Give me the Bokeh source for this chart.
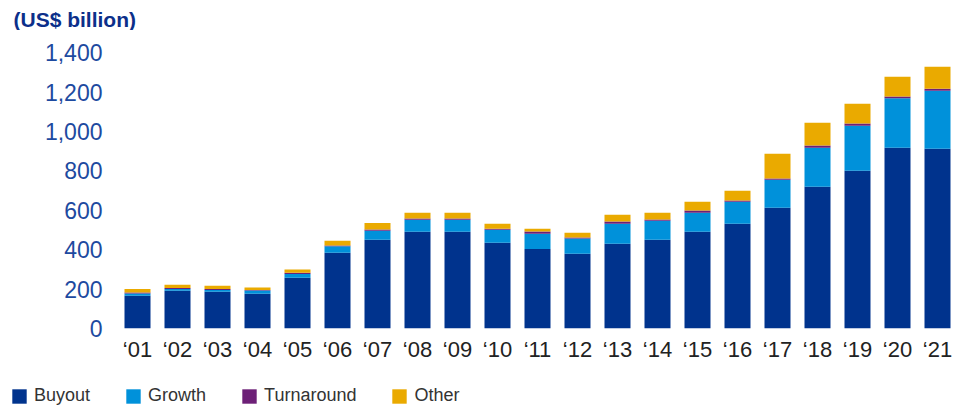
from bokeh.plotting import figure
from bokeh.layouts import column
from bokeh.models import Range1d, FixedTicker, Legend, LegendItem, ColumnDataSource, NumeralTickFormatter, Label
from bokeh.embed import file_html
from bokeh.resources import INLINE

years = ["\u201801", "\u201802", "\u201803", "\u201804", "\u201805", "\u201806", "\u201807",
         "\u201808", "\u201809", "\u201810", "\u201811", "\u201812", "\u201813", "\u201814",
         "\u201815", "\u201816", "\u201817", "\u201818", "\u201819", "\u201820", "\u201821"]
buyout = [166, 191, 186, 176, 257, 384, 450, 491, 491, 435, 404, 379, 430, 450, 491, 531, 613, 719, 800, 917, 912]
growth = [12, 10, 9, 17, 20, 34, 46, 61, 61, 66, 77, 78, 101, 97, 96, 112, 142, 198, 229, 251, 294]
turnaround = [5, 4, 5, 3, 6, 3, 7, 6, 6, 5, 11, 5, 12, 6, 12, 7, 6, 12, 12, 10, 11]
other = [18, 17, 17, 12, 16, 24, 33, 29, 29, 25, 14, 24, 34, 34, 44, 49, 126, 115, 99, 99, 111]
series = ["Buyout", "Growth", "Turnaround", "Other"]
colors = ["#00338D", "#0091DA", "#6D2077", "#EAAA00"]
y_ticks = [0, 200, 400, 600, 800, 1000, 1200, 1400]
unit_title = "(US$ billion)"

xs = list(range(len(years)))
src = ColumnDataSource(dict(x=xs, Buyout=buyout, Growth=growth, Turnaround=turnaround, Other=other))


def strip(h):
    f = figure(width=965, height=h, output_backend="svg", toolbar_location=None,
               x_range=Range1d(0, 965), y_range=Range1d(0, h),
               x_axis_type=None, y_axis_type=None,
               min_border_left=0, min_border_right=0, min_border_top=0, min_border_bottom=0)
    f.outline_line_color = None
    f.grid.visible = False
    f.frame_align = False
    return f


# title strip
pt = strip(30)
pt.add_layout(Label(x=13, y=11, text=unit_title, text_font="Liberation Sans", text_font_style="bold",
                    text_font_size="21px", text_color="#0C2F8A", text_baseline="middle", text_align="left"))

# main chart
p = figure(width=965, height=351, output_backend="svg", toolbar_location=None,
           x_range=Range1d(-0.675, 20.7), y_range=Range1d(0, 1421),
           min_border_left=110, min_border_right=0, min_border_top=18, min_border_bottom=53)
p.frame_align = False
p.outline_line_color = None
p.grid.visible = False

renderers = p.vbar_stack(series, x="x", width=0.65, color=colors, source=src, line_width=0)

xa = p.xaxis[0]
xa.ticker = FixedTicker(ticks=xs)
xa.major_label_overrides = {i: years[i] for i in xs}
xa.axis_line_color = None
xa.major_tick_line_color = None
xa.major_tick_out = 0
xa.major_tick_in = 0
xa.minor_tick_line_color = None
xa.major_label_text_font = "Liberation Sans"
xa.major_label_text_font_size = "22px"
xa.major_label_text_color = "#222222"
xa.major_label_standoff = 8

ya = p.yaxis[0]
ya.ticker = FixedTicker(ticks=y_ticks)
ya.formatter = NumeralTickFormatter(format="0,0")
ya.axis_line_color = None
ya.major_tick_line_color = None
ya.major_tick_out = 0
ya.major_tick_in = 0
ya.minor_tick_line_color = None
ya.major_label_text_font = "Liberation Sans"
ya.major_label_text_font_size = "23px"
ya.major_label_text_color = "#1D4AA0"
ya.major_label_standoff = 8

# legend strip
pl = strip(28)
leg_renderers = [pl.vbar(x=[0], top=[0], width=0, color=c, line_width=0) for c in colors]
legend = Legend(items=[LegendItem(label=s, renderers=[r]) for s, r in zip(series, leg_renderers)],
                orientation="horizontal", location=(10, 3))
legend.border_line_color = None
legend.background_fill_alpha = 0
legend.padding = 0
legend.margin = 0
legend.spacing = 34
legend.glyph_width = 18
legend.glyph_height = 18
legend.label_standoff = 6
legend.label_height = 16
legend.label_text_font = "Liberation Sans"
legend.label_text_font_size = "18px"
legend.label_text_color = "#333333"
pl.add_layout(legend, "center")

layout = column(pt, p, pl, spacing=0)
open("out.html", "w").write(file_html(layout, INLINE))
